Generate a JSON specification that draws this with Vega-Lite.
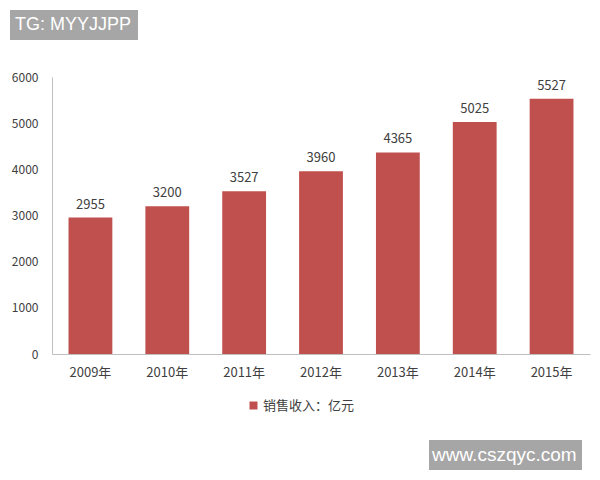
{
  "$schema": "https://vega.github.io/schema/vega-lite/v6.json",
  "width": 538,
  "height": 277,
  "autosize": {"type": "none"},
  "padding": {"left": 52, "top": 77, "right": 10, "bottom": 126},
  "background": "white",
  "data": {
    "values": [
      {"year": "2009年", "value": 2955, "series": "销售收入：亿元", "wm1": "TG: MYYJJPP", "wm2": "www.cszqyc.com"},
      {"year": "2010年", "value": 3200, "series": "销售收入：亿元", "wm1": "TG: MYYJJPP", "wm2": "www.cszqyc.com"},
      {"year": "2011年", "value": 3527, "series": "销售收入：亿元", "wm1": "TG: MYYJJPP", "wm2": "www.cszqyc.com"},
      {"year": "2012年", "value": 3960, "series": "销售收入：亿元", "wm1": "TG: MYYJJPP", "wm2": "www.cszqyc.com"},
      {"year": "2013年", "value": 4365, "series": "销售收入：亿元", "wm1": "TG: MYYJJPP", "wm2": "www.cszqyc.com"},
      {"year": "2014年", "value": 5025, "series": "销售收入：亿元", "wm1": "TG: MYYJJPP", "wm2": "www.cszqyc.com"},
      {"year": "2015年", "value": 5527, "series": "销售收入：亿元", "wm1": "TG: MYYJJPP", "wm2": "www.cszqyc.com"}
    ]
  },
  "encoding": {
    "x": {
      "field": "year", "type": "nominal", "sort": null,
      "scale": {"paddingInner": 0.43, "paddingOuter": 0.215},
      "axis": {
        "title": null, "labelAngle": 0, "ticks": false, "labelPadding": 12,
        "labelFont": "Noto Sans CJK SC", "labelFontSize": 13, "labelColor": "#404040",
        "domainColor": "#BFBFBF", "domainWidth": 1
      }
    },
    "y": {
      "field": "value", "type": "quantitative",
      "scale": {"domain": [0, 6000], "nice": false},
      "axis": {
        "title": null, "values": [0, 1000, 2000, 3000, 4000, 5000, 6000], "format": "d",
        "grid": false, "ticks": false, "labelPadding": 14,
        "labelFont": "Noto Sans CJK SC", "labelFontSize": 12, "labelColor": "#404040",
        "domainColor": "#BFBFBF", "domainWidth": 1
      }
    }
  },
  "layer": [
    {
      "mark": {"type": "bar", "strokeWidth": 0},
      "encoding": {
        "color": {
          "field": "series", "type": "nominal",
          "scale": {"range": ["#C0504D"]},
          "legend": {
            "title": null, "orient": "none", "legendX": 195, "legendY": 322,
            "symbolType": "square", "symbolSize": 64, "symbolStrokeWidth": 0,
            "labelFont": "Noto Sans CJK SC", "labelFontSize": 13, "labelColor": "#404040",
            "labelOffset": 3, "padding": 0
          }
        },
        "stroke": {
          "field": "wm1", "type": "nominal",
          "scale": {"range": ["#C0504D"]},
          "legend": {
            "title": null, "orient": "none", "legendX": -42, "legendY": -67,
            "symbolSize": 1, "symbolOpacity": 0, "symbolStrokeWidth": 0.01, "labelOffset": -19,
            "fillColor": "#A6A6A6", "padding": 6,
            "labelFont": "Liberation Sans", "labelFontSize": 18, "labelColor": "white"
          }
        },
        "strokeDash": {
          "field": "wm2", "type": "nominal",
          "scale": {"range": [[1, 0]]},
          "legend": {
            "title": null, "orient": "none", "legendX": 377, "legendY": 363,
            "symbolSize": 1, "symbolOpacity": 0, "symbolStrokeWidth": 0.01, "labelOffset": -21,
            "fillColor": "#A6A6A6", "padding": 5,
            "labelFont": "Liberation Sans", "labelFontSize": 19, "labelColor": "white"
          }
        }
      }
    },
    {
      "mark": {"type": "text", "dy": -13, "font": "Noto Sans CJK SC", "fontSize": 13, "color": "#404040"},
      "encoding": {
        "text": {"field": "value", "type": "quantitative", "format": "d"}
      }
    }
  ],
  "config": {"view": {"stroke": null}}
}
